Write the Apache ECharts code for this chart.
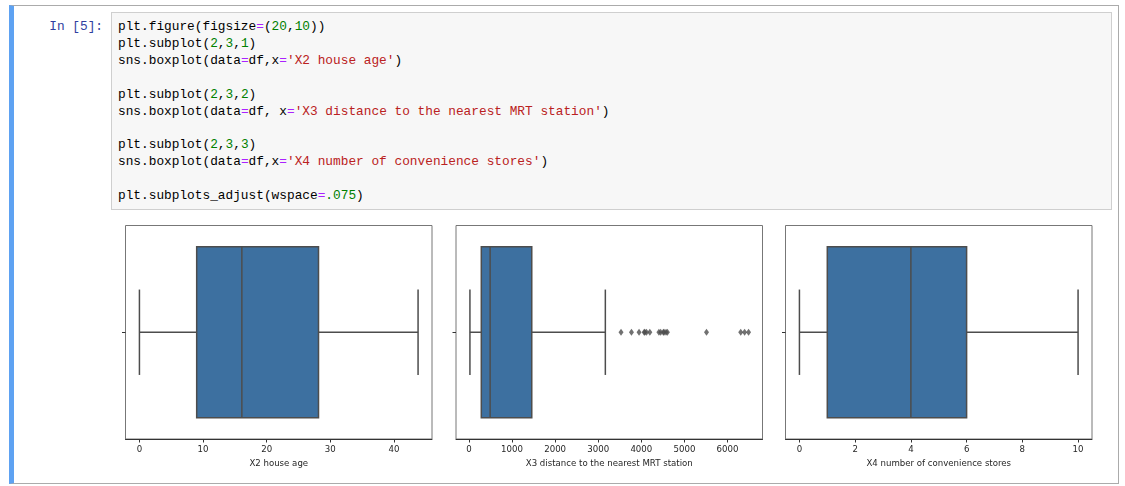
<!DOCTYPE html>
<html>
<head>
<meta charset="utf-8">
<script src="https://cdn.jsdelivr.net/npm/echarts@6/dist/echarts.min.js"></script>
<style>
  html, body { margin: 0; padding: 0; background: #fff; width: 1125px; height: 486px; overflow: hidden; }
  #cell { position: absolute; left: 9px; top: 5px; width: 1104px; height: 477px;
          border: 1px solid #ababab; border-left: 5px solid #5ea2f2; }
  #prompt { position: absolute; left: 0; top: 18px; width: 103px; text-align: right;
            font: 12.8px/17px "Liberation Mono", monospace; color: #303F9F; }
  #code { position: absolute; left: 111px; top: 12px; width: 999px; height: 196px;
          background: #f7f7f7; border: 1px solid #cfcfcf; }
  #code pre { margin: 0; padding: 6px 0 0 6px; font: 12.8px/16.9px "Liberation Mono", monospace; color: #000; }
  .o { color: #AA22FF; } .n { color: #008000; } .s { color: #BA2121; }
  #main-chart { position: absolute; left: 0; top: 215px; width: 1125px; height: 271px; }
</style>
</head>
<body>
<div id="cell"></div>
<div id="prompt">In [5]:</div>
<div id="code"><pre>plt.figure(figsize<span class="o">=</span>(<span class="n">20</span>,<span class="n">10</span>))
plt.subplot(<span class="n">2</span>,<span class="n">3</span>,<span class="n">1</span>)
sns.boxplot(data<span class="o">=</span>df,x<span class="o">=</span><span class="s">'X2 house age'</span>)

plt.subplot(<span class="n">2</span>,<span class="n">3</span>,<span class="n">2</span>)
sns.boxplot(data<span class="o">=</span>df, x<span class="o">=</span><span class="s">'X3 distance to the nearest MRT station'</span>)

plt.subplot(<span class="n">2</span>,<span class="n">3</span>,<span class="n">3</span>)
sns.boxplot(data<span class="o">=</span>df,x<span class="o">=</span><span class="s">'X4 number of convenience stores'</span>)

plt.subplots_adjust(wspace<span class="o">=</span><span class="n">.075</span>)</pre></div>
<div id="main-chart"></div>
<script>
// box summaries: [lower whisker, Q1, median, Q3, upper whisker]
var ageStats = [0, 9.0, 16.1, 28.15, 43.8];
var distStats = [23.4, 287, 492, 1458, 3165];
var storeStats = [0, 1, 4, 6, 10];

// points beyond the whiskers (only the MRT distance has them)
var distOutliers = [3529, 3771, 3947, 4066, 4082, 4120, 4197, 4408, 4449, 4510, 4527, 4573, 4605, 5512, 6306, 6396, 6488];

// tick labels
var ageTicks = [0, 10, 20, 30, 40];
var distTicks = [0, 1000, 2000, 3000, 4000, 5000, 6000];
var storeTicks = [0, 2, 4, 6, 8, 10];

var axisTitles = ['X2 house age', 'X3 distance to the nearest MRT station', 'X4 number of convenience stores'];

var BOX = '#3d70a0';
var LINE = '#4d4d4d';

document.addEventListener('DOMContentLoaded', function () {
    var myChart = echarts.init(document.getElementById('main-chart'));

    var panels = [
        { stats: ageStats, outliers: [], ticks: ageTicks },
        { stats: distStats, outliers: distOutliers, ticks: distTicks },
        { stats: storeStats, outliers: [], ticks: storeTicks }
    ];
    var lefts = [125.5, 456, 785.5];

    // draw one seaborn-style box: box is 0.8 tall, caps are half of it
    function renderBox(params, api) {
        var lo = api.value(0), q1 = api.value(1), med = api.value(2), q3 = api.value(3), hi = api.value(4);
        var a = api.coord([q1, 0.4]), b = api.coord([q3, -0.4]);
        var pLo = api.coord([lo, 0]), pQ1 = api.coord([q1, 0]), pQ3 = api.coord([q3, 0]), pHi = api.coord([hi, 0]);
        var capTop = api.coord([lo, 0.2])[1], capBot = api.coord([lo, -0.2])[1];
        var mTop = api.coord([med, 0.4]), mBot = api.coord([med, -0.4]);
        var ls = { stroke: LINE, lineWidth: 1.5 };
        return {
            type: 'group',
            children: [
                { type: 'line', shape: { x1: pLo[0], y1: pLo[1], x2: pQ1[0], y2: pQ1[1] }, style: ls },
                { type: 'line', shape: { x1: pQ3[0], y1: pQ3[1], x2: pHi[0], y2: pHi[1] }, style: ls },
                { type: 'line', shape: { x1: pLo[0], y1: capTop, x2: pLo[0], y2: capBot }, style: ls },
                { type: 'line', shape: { x1: pHi[0], y1: capTop, x2: pHi[0], y2: capBot }, style: ls },
                { type: 'rect', shape: { x: a[0], y: Math.min(a[1], b[1]), width: b[0] - a[0], height: Math.abs(b[1] - a[1]) },
                  style: { fill: BOX, stroke: LINE, lineWidth: 1.5 } },
                { type: 'line', shape: { x1: mTop[0], y1: mTop[1], x2: mBot[0], y2: mBot[1] }, style: ls }
            ]
        };
    }

    var grid = [], xAxis = [], yAxis = [], series = [];
    panels.forEach(function (p, i) {
        var lo = Math.min.apply(null, [p.stats[0]].concat(p.outliers));
        var hi = Math.max.apply(null, [p.stats[4]].concat(p.outliers));
        var pad = (hi - lo) * 0.05;

        grid.push({ left: lefts[i], top: 10.5, width: 306.5, height: 213.5,
                    show: true, borderColor: '#777', borderWidth: 1, backgroundColor: 'transparent' });
        xAxis.push({
            gridIndex: i, type: 'value', min: lo - pad, max: hi + pad,
            name: axisTitles[i], nameLocation: 'middle', nameGap: 18.5,
            nameTextStyle: { fontFamily: 'DejaVu Sans', fontSize: 8.6, color: '#262626' },
            axisLine: { show: true, onZero: false, lineStyle: { color: '#333', width: 1 } },
            axisTick: { show: true, length: 3.5, customValues: p.ticks, lineStyle: { color: '#333' } },
            axisLabel: { customValues: p.ticks, margin: 6.5, fontFamily: 'DejaVu Sans', fontSize: 8.6, color: '#262626',
                         formatter: function (v) { return String(v); } },
            splitLine: { show: false }
        });
        yAxis.push({
            gridIndex: i, type: 'value', min: -0.5, max: 0.5,
            axisLine: { show: false, onZero: false },
            axisTick: { show: true, length: 3.5, customValues: [0], lineStyle: { color: '#333' } },
            axisLabel: { show: false },
            splitLine: { show: false }
        });
        series.push({
            type: 'custom', xAxisIndex: i, yAxisIndex: i,
            renderItem: renderBox,
            encode: { x: [0, 1, 2, 3, 4], y: 5 },
            data: [p.stats.concat([0])],
            silent: true
        });
        if (p.outliers.length) {
            series.push({
                type: 'scatter', xAxisIndex: i, yAxisIndex: i,
                symbol: 'diamond', symbolSize: [5, 7],
                itemStyle: { color: LINE },
                data: p.outliers.map(function (v) { return [v, 0]; }),
                silent: true
            });
        }
    });

    myChart.setOption({ animation: false, grid: grid, xAxis: xAxis, yAxis: yAxis, series: series });
});
</script>
</body>
</html>
